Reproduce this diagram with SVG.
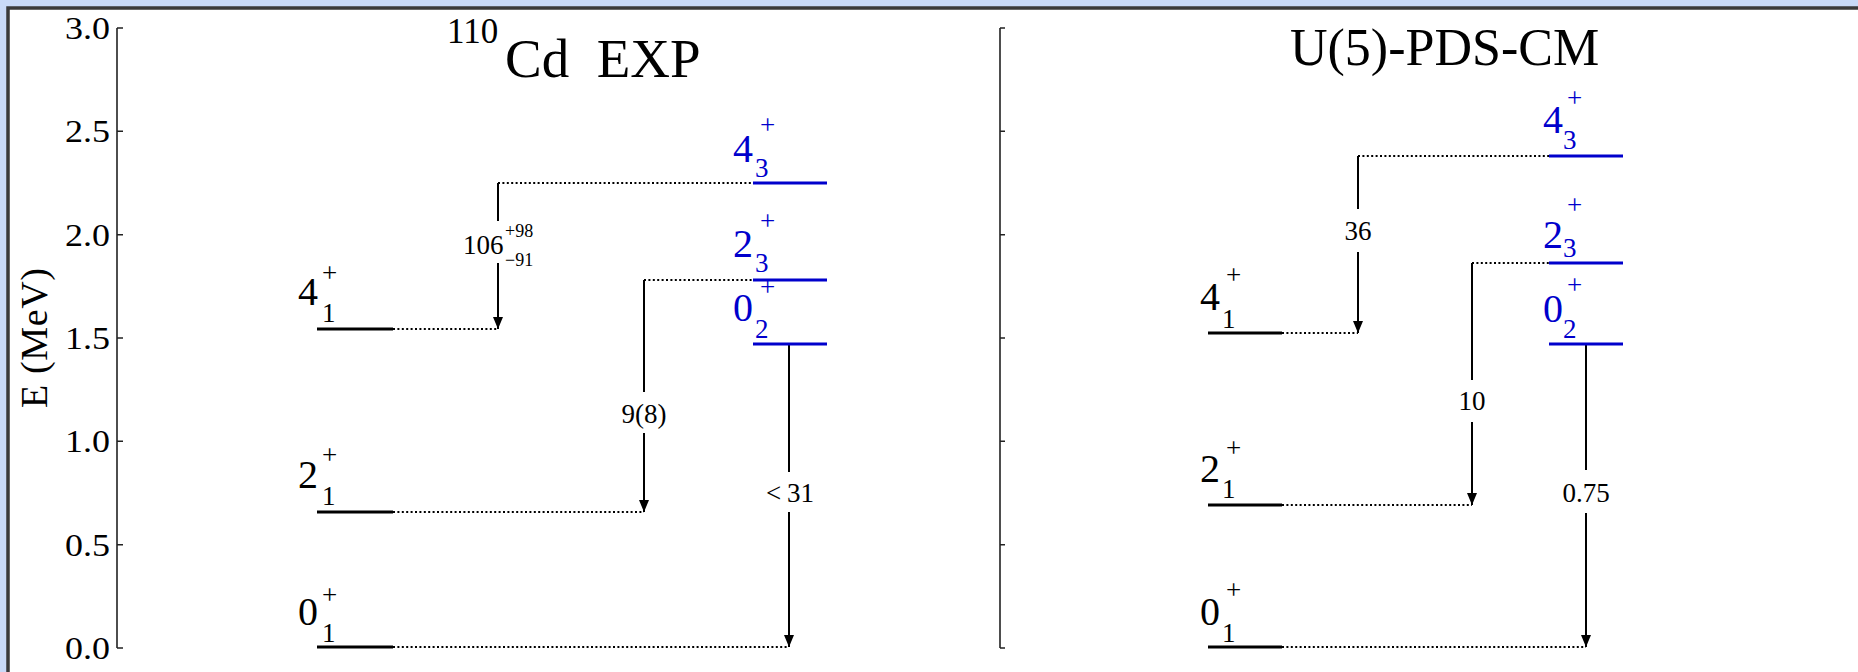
<svg xmlns="http://www.w3.org/2000/svg" width="1858" height="672" viewBox="0 0 1858 672">
<style>
text{font-family:"Liberation Serif","Times New Roman",serif;fill:#000}
.blue{fill:#0000cc}
.ax{stroke:#222;stroke-width:1.6;fill:none}
.lv{stroke:#000;stroke-width:3}
.lvb{stroke:#0000cc;stroke-width:3}
.dot{stroke:#000;stroke-width:2.2;stroke-dasharray:2 2.4;fill:none}
.tr{stroke:#000;stroke-width:2;fill:none}
.d{font-size:40px}
.s{font-size:27px}
.tk{font-size:31px}
.v{font-size:27px}
</style>
<defs>
<marker id="ah" markerUnits="userSpaceOnUse" viewBox="0 0 12 10" refX="12" refY="5" markerWidth="12" markerHeight="10" orient="auto">
<path d="M0,0 L12,5 L0,10 z" fill="#000"/>
</marker>
</defs>
<rect x="0" y="0" width="1858" height="672" fill="#c9daf8"/>
<rect x="8" y="8" width="1860" height="670" fill="#fff" stroke="#3a3a3a" stroke-width="3.5"/>

<g id="axis-left">
<path class="ax" d="M117,28 V648 M117,28 H123 M117,131.3 H123 M117,234.7 H123 M117,338 H123 M117,441.3 H123 M117,544.7 H123 M117,648 H123"/>
<text class="tk" x="65" y="39" textLength="45" lengthAdjust="spacingAndGlyphs">3.0</text>
<text class="tk" x="65" y="142" textLength="45" lengthAdjust="spacingAndGlyphs">2.5</text>
<text class="tk" x="65" y="246" textLength="45" lengthAdjust="spacingAndGlyphs">2.0</text>
<text class="tk" x="65" y="349" textLength="45" lengthAdjust="spacingAndGlyphs">1.5</text>
<text class="tk" x="65" y="452" textLength="45" lengthAdjust="spacingAndGlyphs">1.0</text>
<text class="tk" x="65" y="556" textLength="45" lengthAdjust="spacingAndGlyphs">0.5</text>
<text class="tk" x="65" y="659" textLength="45" lengthAdjust="spacingAndGlyphs">0.0</text>
<text transform="translate(47,338) rotate(-90)" text-anchor="middle" font-size="38" textLength="140">E (MeV)</text>
</g>

<g id="axis-right">
<path class="ax" d="M1000,28 V648 M1000,28 H1005 M1000,131.3 H1005 M1000,234.7 H1005 M1000,338 H1005 M1000,441.3 H1005 M1000,544.7 H1005 M1000,648 H1005"/>
</g>

<g id="title-exp">
<text x="447" y="43" font-size="35">110</text>
<text x="505" y="77" font-size="55" xml:space="preserve">Cd  EXP</text>
</g>
<g id="title-model">
<text x="1290" y="65" font-size="52">U(5)-PDS-CM</text>
</g>

<g id="connectors">
<path class="dot" d="M393,329 H498 M498,183 H753 M644,280 H753 M393,512 H644 M393,647 H789"/>
<path class="dot" d="M1282,333 H1358 M1358,156 H1549 M1472,263 H1549 M1282,505 H1472 M1282,647 H1586"/>
<path class="tr" d="M498,183 V221"/>
<path class="tr" d="M498,263 V329" marker-end="url(#ah)"/>
<path class="tr" d="M644,280 V392"/>
<path class="tr" d="M644,433 V512" marker-end="url(#ah)"/>
<path class="tr" d="M789,344 V472"/>
<path class="tr" d="M789,512 V647" marker-end="url(#ah)"/>
<path class="tr" d="M1358,156 V209"/>
<path class="tr" d="M1358,252 V333" marker-end="url(#ah)"/>
<path class="tr" d="M1472,263 V380"/>
<path class="tr" d="M1472,422 V505" marker-end="url(#ah)"/>
<path class="tr" d="M1586,344 V470"/>
<path class="tr" d="M1586,513 V647" marker-end="url(#ah)"/>
<text class="v" x="463" y="254">106</text>
<text x="505" y="237" font-size="18">+98</text>
<text x="505" y="266" font-size="18">−91</text>
<text class="v" x="644" y="423" text-anchor="middle">9(8)</text>
<text class="v" x="790" y="502" text-anchor="middle">&lt;<tspan dx="6">31</tspan></text>
<text class="v" x="1358" y="240" text-anchor="middle">36</text>
<text class="v" x="1472" y="410" text-anchor="middle">10</text>
<text class="v" x="1586" y="502" text-anchor="middle">0.75</text>
</g>

<g id="exp-4-1">
<line class="lv" x1="317" y1="329" x2="393" y2="329"/>
<text class="d" x="298" y="305">4</text><text class="s" x="322" y="282">+</text><text class="s" x="322" y="322">1</text>
</g>
<g id="exp-2-1">
<line class="lv" x1="317" y1="512" x2="393" y2="512"/>
<text class="d" x="298" y="488">2</text><text class="s" x="322" y="464">+</text><text class="s" x="322" y="505">1</text>
</g>
<g id="exp-0-1">
<line class="lv" x1="317" y1="647" x2="393" y2="647" stroke-width="2.2"/>
<text class="d" x="298" y="625">0</text><text class="s" x="322" y="604">+</text><text class="s" x="322" y="642">1</text>
</g>
<g id="exp-4-3">
<line class="lvb" x1="753" y1="183" x2="827" y2="183"/>
<text class="d blue" x="733" y="162">4</text><text class="s blue" x="760" y="134">+</text><text class="s blue" x="755" y="177">3</text>
</g>
<g id="exp-2-3">
<line class="lvb" x1="753" y1="280" x2="827" y2="280"/>
<text class="d blue" x="733" y="257">2</text><text class="s blue" x="760" y="230">+</text><text class="s blue" x="755" y="272">3</text>
</g>
<g id="exp-0-2">
<line class="lvb" x1="753" y1="344" x2="827" y2="344"/>
<text class="d blue" x="733" y="321">0</text><text class="s blue" x="760" y="296">+</text><text class="s blue" x="755" y="338">2</text>
</g>

<g id="model-4-1">
<line class="lv" x1="1208" y1="333" x2="1282" y2="333"/>
<text class="d" x="1200" y="310">4</text><text class="s" x="1226" y="284">+</text><text class="s" x="1222" y="328">1</text>
</g>
<g id="model-2-1">
<line class="lv" x1="1208" y1="505" x2="1282" y2="505"/>
<text class="d" x="1200" y="482">2</text><text class="s" x="1226" y="457">+</text><text class="s" x="1222" y="498">1</text>
</g>
<g id="model-0-1">
<line class="lv" x1="1208" y1="647" x2="1282" y2="647" stroke-width="2.2"/>
<text class="d" x="1200" y="625">0</text><text class="s" x="1226" y="599">+</text><text class="s" x="1222" y="642">1</text>
</g>
<g id="model-4-3">
<line class="lvb" x1="1549" y1="156" x2="1623" y2="156"/>
<text class="d blue" x="1543" y="133">4</text><text class="s blue" x="1567" y="107">+</text><text class="s blue" x="1563" y="149">3</text>
</g>
<g id="model-2-3">
<line class="lvb" x1="1549" y1="263" x2="1623" y2="263"/>
<text class="d blue" x="1543" y="248">2</text><text class="s blue" x="1567" y="214">+</text><text class="s blue" x="1563" y="257">3</text>
</g>
<g id="model-0-2">
<line class="lvb" x1="1549" y1="344" x2="1623" y2="344"/>
<text class="d blue" x="1543" y="322">0</text><text class="s blue" x="1567" y="294">+</text><text class="s blue" x="1563" y="338">2</text>
</g>
</svg>
